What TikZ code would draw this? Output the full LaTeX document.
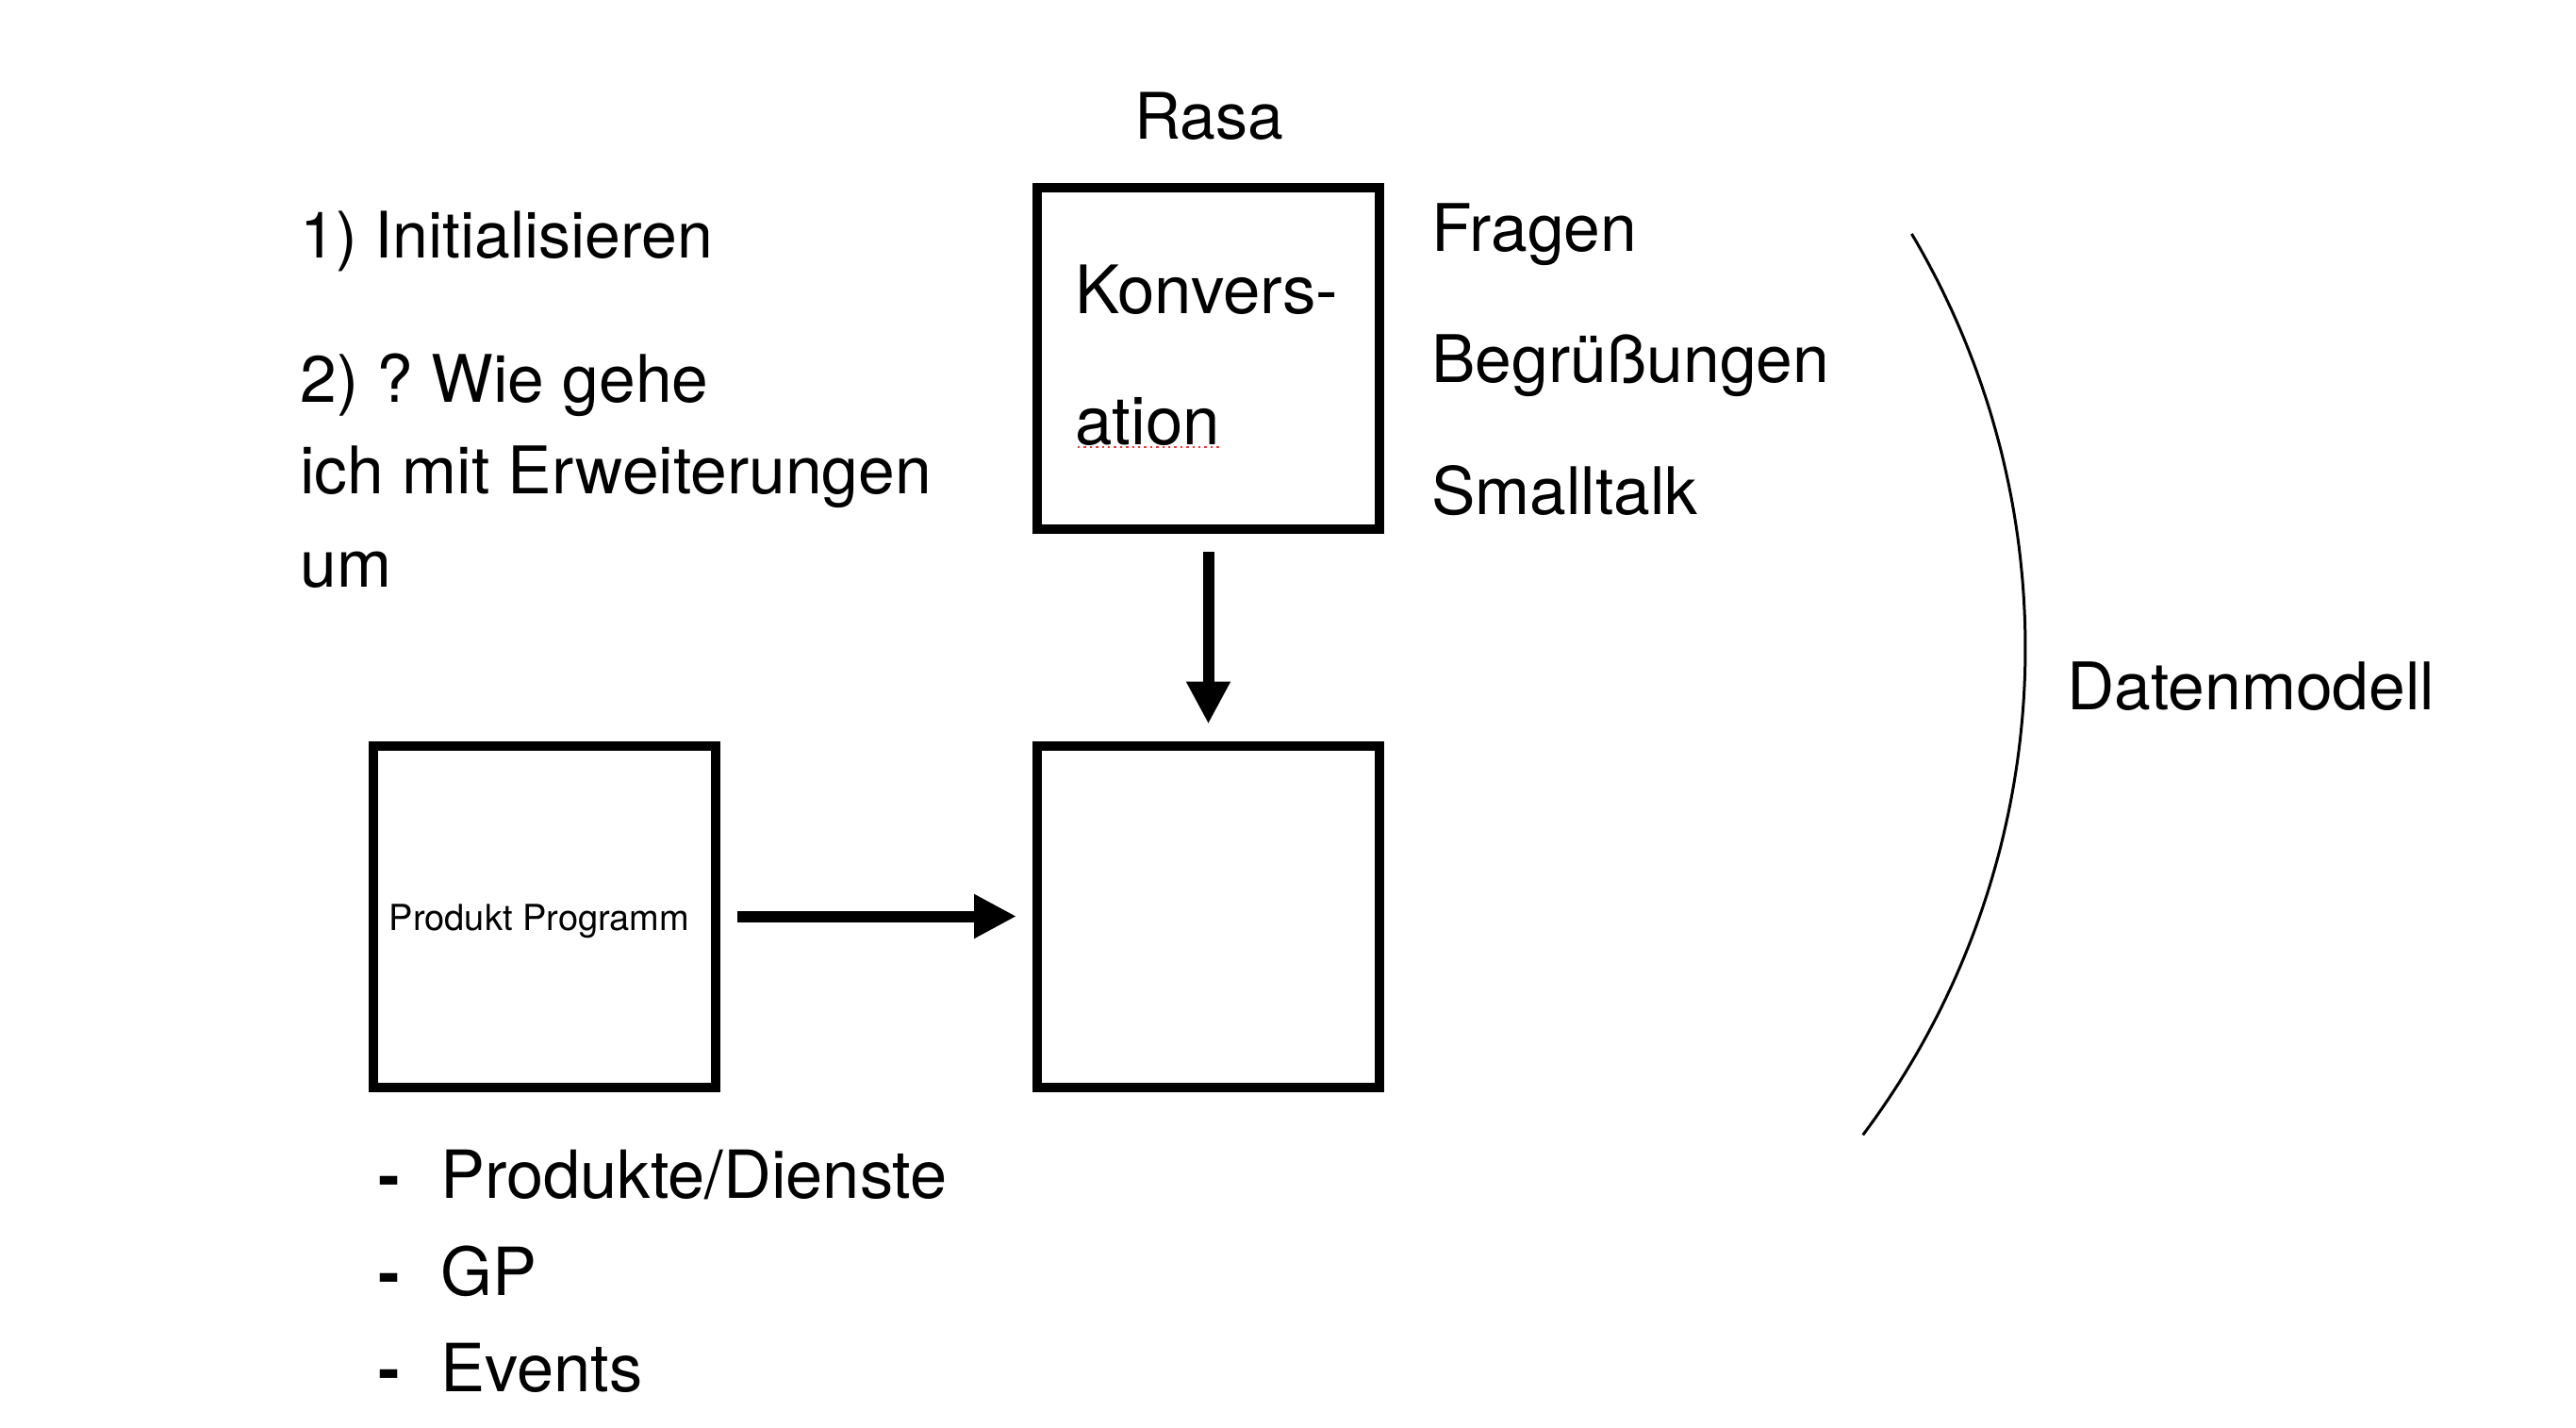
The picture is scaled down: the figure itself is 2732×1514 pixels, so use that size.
\documentclass[tikz,border=0pt]{standalone}
\usepackage{fontspec}
\setmainfont{TeX Gyre Heros}
\usetikzlibrary{arrows.meta}
\begin{document}
\frenchspacing
\begin{tikzpicture}[x=0.5pt,y=-0.5pt,
  box/.style={draw, line width=5pt, minimum width=181.5pt, minimum height=181pt, inner sep=0pt},
  big/.style={font=\fontsize{34}{40}\selectfont, inner sep=0pt},
  bigw/.style={font=\fontsize{34.8}{40}\selectfont, inner sep=0pt},
  konvfont/.style={font=\fontsize{35.4}{40}\selectfont, inner sep=0pt},
  listfont/.style={font=\fontsize{35.2}{40}\selectfont, inner sep=0pt},
  small/.style={font=\fontsize{19}{23}\selectfont, inner sep=0pt},
  dashitem/.style={font=\fontsize{34}{40}\selectfont\bfseries, inner sep=0pt},
  arr/.style={line width=6pt, -{Triangle[length=22.5pt,width=22pt]}}]
\useasboundingbox (0,0) rectangle (2732,1514);
% boxes
\node[box] (konv) at (1281.5,380) {};
\node[box] (target) at (1281.5,971.5) {};
\node[box] (prod) at (577.5,971.5) {};
% texts
\node[big, anchor=base] (rasa) at (1282,148) {Rasa};
\node[konvfont, anchor=base west] (konvA) at (1140,333) {Konvers-};
\node[konvfont, anchor=base west] (konvB) at (1140,471) {ation};
\draw[red!80, dotted, line width=1.2pt] (konvB.base west) ++(3,3) coordinate (ulA) -- (konvB.base east |- ulA) coordinate (ulB);
\node[small, anchor=base] (prodtext) at (572,986) {Produkt Programm};
\node[bigw, anchor=base west] (fragen) at (1518,267) {Fragen};
\node[bigw, anchor=base west] (begr) at (1518,406) {Begrüßungen};
\node[bigw, anchor=base west] (small) at (1518,545) {Smalltalk};
\node[big, anchor=base west] (init) at (318,274) {1) Initialisieren};
\node[bigw, anchor=base west] (wie1) at (318,426) {2) ? Wie gehe};
\node[bigw, anchor=base west] (wie2) at (318,523) {ich mit Erweiterungen};
\node[bigw, anchor=base west] (wie3) at (318,622) {um};
\node[bigw, anchor=base west] (daten) at (2192,752) {Datenmodell};
\node[dashitem, anchor=base west] (d1) at (401,1270) {-};
\node[dashitem, anchor=base west] (d2) at (401,1373) {-};
\node[dashitem, anchor=base west] (d3) at (401,1475) {-};
\node[listfont, anchor=base west] (l1) at (467,1270) {Produkte/Dienste};
\node[listfont, anchor=base west] (l2) at (467,1373) {GP};
\node[listfont, anchor=base west] (l3) at (467,1475) {Events};
% arrows
\draw[arr, shorten <=9.5pt, shorten >=9pt] (konv.south) -- (target.north);
\draw[arr, shorten <=9pt, shorten >=8.5pt] (prod.east) -- (target.west);
% arc
\draw[line width=1.5pt] plot[domain=-30.7:36.9, samples=90] ({1288+860*cos(\x)},{687+860*sin(\x)});
\end{tikzpicture}
\end{document}
